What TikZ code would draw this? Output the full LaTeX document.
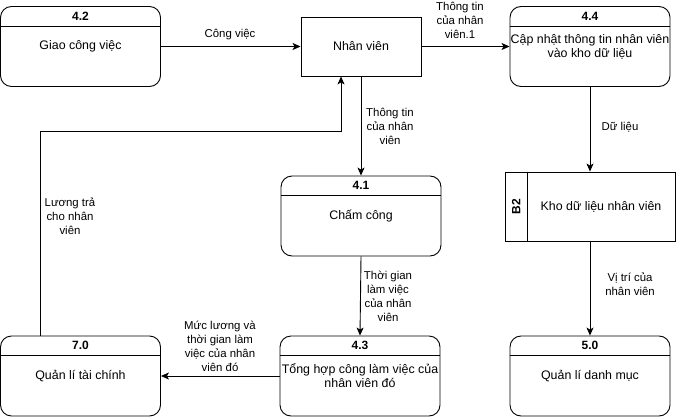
\documentclass[tikz,border=0pt]{standalone}
\usepackage{fontspec}
\setmainfont{Liberation Sans}
\usetikzlibrary{arrows.meta}
\tikzset{
  proc/.style={draw, rounded corners=11pt, minimum width=160pt, minimum height=80pt, inner sep=0pt, line width=0.9pt},
  ent/.style={draw, minimum width=120pt, minimum height=59pt, inner sep=0pt, line width=0.9pt},
  ttl/.style={font=\fontsize{12}{14}\selectfont\bfseries, inner sep=0pt},
  txt/.style={font=\fontsize{12.4}{14}\selectfont, align=center, inner sep=0pt},
  lbl/.style={font=\fontsize{11.4}{14}\selectfont, align=center, inner sep=1pt, fill=white},
  flow/.style={line width=0.9pt, -{Stealth[length=8pt,width=7pt,inset=2pt]}},
  divl/.style={line width=0.9pt}
}
\begin{document}
\begin{tikzpicture}[x=1pt,y=-1pt]
\useasboundingbox (0,0) rectangle (676,417);
% processes
\node[proc] (p42) at (80.5,46.5) {};
\node[proc] (p44) at (590,46.5) {};
\node[proc] (p41) at (361,216) {};
\node[proc] (p43) at (360,376) {};
\node[proc] (p70) at (80.5,376) {};
\node[proc] (p50) at (590,376) {};
\foreach \n/\t in {p42/4.2,p44/4.4,p41/4.1,p43/4.3,p70/7.0,p50/5.0}{
  \draw[divl] ([yshift=-20pt]\n.north west) -- ([yshift=-20pt]\n.north east);
  \node[ttl] (\n t) at ([yshift=-10pt]\n.north) {\t};
}
\node[txt] (p42b) at (p42) {Giao công việc};
\node[txt] (p44b) at (p44) {Cập nhật thông tin nhân viên\\vào kho dữ liệu};
\node[txt] (p41b) at (p41) {Chấm công};
\node[txt] (p43b) at (p43) {Tổng hợp công làm việc của\\nhân viên đó};
\node[txt] (p70b) at (p70) {Quản lí tài chính};
\node[txt] (p50b) at (p50) {Quản lí danh mục};
% entity
\node[ent] (nv) at (361,46.5) {};
\node[txt] (nvt) at (nv) {Nhân viên};
% data store
\node[draw, line width=0.9pt, minimum width=170pt, minimum height=69pt, inner sep=0pt] (ds) at (590,206.5) {};
\draw[divl] ([xshift=23pt]ds.north west) -- ([xshift=23pt]ds.south west);
\node[ttl, rotate=90] (dsid) at ([xshift=11.5pt]ds.west) {B2};
\node[txt] (dst) at (601,206.5) {Kho dữ liệu nhân viên};
% flows
\draw[flow] (p42.east) -- (nv.west);
\node[lbl] (l1) at (230,35) {Công việc};
\draw[flow] (nv.east) -- (p44.west);
\node[lbl] (l2) at (460,20) {Thông tin\\của nhân\\viên.1};
\draw[flow] (nv.south) -- (p41.north);
\node[lbl] (l3) at (390,126) {Thông tin\\của nhân\\viên};
\draw[flow] (p41.south) -- (p43.north);
\node[lbl] (l4) at (388,296) {Thời gian\\làm việc\\của nhân\\viên};
\draw[flow] (p43.west) -- (p70.east);
\node[lbl] (l5) at (220,346) {Mức lương và\\thời gian làm\\việc của nhân\\viên đó};
\coordinate (c1) at (40,131.5);
\coordinate (c2) at (341,131.5);
\draw[flow] ([xshift=-40.5pt]p70.north) -- (c1) -- (c2) -- (c2 |- nv.south);
\node[lbl] (l6) at (70,216) {Lương trả\\cho nhân\\viên};
\draw[flow] (p44.south) -- (ds.north);
\node[lbl] (l7) at (620,127) {Dữ liệu};
\draw[flow] (ds.south) -- (p50.north);
\node[lbl] (l8) at (630,284) {Vị trí của\\nhân viên};
\end{tikzpicture}
\end{document}
